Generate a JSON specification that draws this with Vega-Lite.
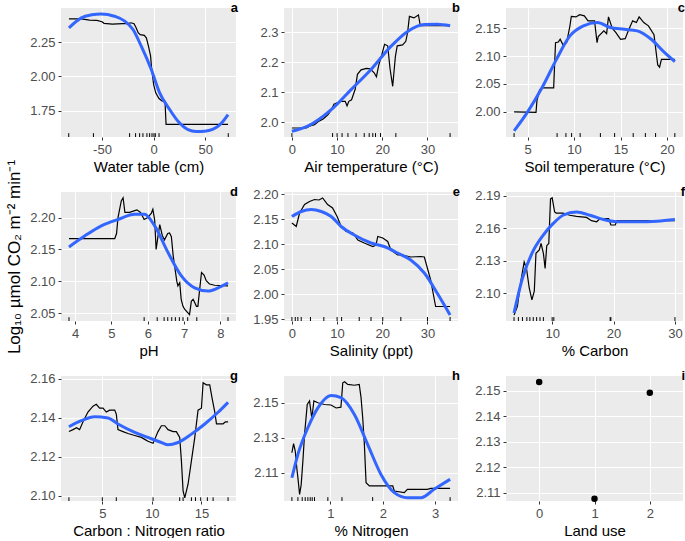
{
"$schema": "https://vega.github.io/schema/vega-lite/v6.json",
"padding": {"left": 5, "top": 2, "right": 0, "bottom": 0},
"background": "white",
"columns": 3,
"bounds": "flush",
"align": "each",
"spacing": {"row": 55, "column": 48},
"concat": [
{
"width": 175, "height": 129,
"resolve": {"axis": {"x": "independent", "y": "independent"}},
"layer": [
 {"data": {"values": [{"x":-82,"y":2.42},{"x":-70,"y":2.42},{"x":-62,"y":2.412},{"x":-55,"y":2.41},{"x":-50,"y":2.40},{"x":-48,"y":2.388},{"x":-40,"y":2.382},{"x":-30,"y":2.386},{"x":-25,"y":2.386},{"x":-22,"y":2.392},{"x":-19,"y":2.385},{"x":-17,"y":2.355},{"x":-15,"y":2.32},{"x":-13,"y":2.305},{"x":-9,"y":2.30},{"x":-7,"y":2.28},{"x":-5,"y":2.22},{"x":-3,"y":2.15},{"x":-2,"y":2.06},{"x":-1,"y":2.0},{"x":0,"y":1.94},{"x":2,"y":1.88},{"x":5,"y":1.84},{"x":8,"y":1.82},{"x":11,"y":1.815},{"x":12,"y":1.65},{"x":72,"y":1.65}]},
  "mark": {"type": "line", "color": "#000000", "strokeWidth": 1.2},
  "encoding": {
   "x": {"field": "x", "type": "quantitative", "scale": {"domain": [-89.7, 79.7], "nice": false, "zero": false}, "axis": {"title": "Water table (cm)", "values": [-50, 0, 50], "labelExpr": "replace(datum.label, '−', '-')"}},
   "y": {"field": "y", "type": "quantitative", "scale": {"domain": [1.557, 2.5], "nice": false, "zero": false}, "axis": {"title": null, "values": [1.75, 2.0, 2.25], "format": ".2f"}}}},
 {"data": {"values": [{"x":-82,"y":2.355},{"x":-70,"y":2.428},{"x":-60,"y":2.45},{"x":-51,"y":2.457},{"x":-38,"y":2.44},{"x":-28,"y":2.404},{"x":-20,"y":2.343},{"x":-12,"y":2.221},{"x":-2.3,"y":2.05},{"x":5.8,"y":1.88},{"x":15.5,"y":1.758},{"x":23.6,"y":1.672},{"x":33.3,"y":1.611},{"x":41,"y":1.597},{"x":49.5,"y":1.599},{"x":57,"y":1.612},{"x":62.5,"y":1.636},{"x":67,"y":1.67},{"x":72,"y":1.72}]},
  "mark": {"type": "line", "color": "#3366FF", "strokeWidth": 3, "interpolate": "monotone"},
  "encoding": {
   "x": {"field": "x", "type": "quantitative", "scale": {"domain": [-89.7, 79.7], "nice": false, "zero": false}, "axis": {"orient": "top", "values": [-75, -25, 25, 75], "labels": false, "ticks": false, "title": null, "gridWidth": 0.55}},
   "y": {"field": "y", "type": "quantitative", "scale": {"domain": [1.557, 2.5], "nice": false, "zero": false}, "axis": {"orient": "right", "values": [1.625, 1.875, 2.125, 2.375], "labels": false, "ticks": false, "title": null, "gridWidth": 0.55}}}},
 {"data": {"values": [{"x":-82.2},{"x":-58.3},{"x":-23.3},{"x":-17.5},{"x":-13.6},{"x":-10.4},{"x":-6.5},{"x":-3.9},{"x":-1.6},{"x":0.3},{"x":1.6},{"x":5.2},{"x":72.2}]},
  "mark": {"type": "rule", "color": "#000000", "strokeWidth": 1},
  "encoding": {"x": {"field": "x", "type": "quantitative", "axis": null}, "y": {"datum": 1.557, "type": "quantitative", "axis": null}, "y2": {"datum": 1.585}}},
 {"data": {"values": [{"t": "a"}]},
  "mark": {"type": "text", "align": "right", "baseline": "alphabetic", "dx": 2, "dy": 4, "fontSize": 13, "fontWeight": "bold", "color": "#000000"},
  "encoding": {"text": {"field": "t"}, "x": {"datum": 79.7, "type": "quantitative", "axis": null}, "y": {"datum": 2.5, "type": "quantitative", "axis": null}}}
]
},
{
"width": 174, "height": 129,
"resolve": {"axis": {"x": "independent", "y": "independent"}},
"layer": [
 {"data": {"values": [{"x":0,"y":1.981},{"x":3.2,"y":1.981},{"x":4,"y":1.988},{"x":5,"y":1.992},{"x":6,"y":2.004},{"x":7,"y":2.012},{"x":8,"y":2.026},{"x":8.7,"y":2.04},{"x":9.3,"y":2.06},{"x":10,"y":2.065},{"x":11,"y":2.07},{"x":11.8,"y":2.07},{"x":12.2,"y":2.055},{"x":12.6,"y":2.07},{"x":13.2,"y":2.075},{"x":14,"y":2.11},{"x":14.5,"y":2.16},{"x":15.3,"y":2.175},{"x":16.5,"y":2.18},{"x":17.3,"y":2.178},{"x":18.2,"y":2.165},{"x":18.7,"y":2.152},{"x":19.2,"y":2.19},{"x":19.8,"y":2.22},{"x":20.5,"y":2.26},{"x":21.2,"y":2.255},{"x":21.7,"y":2.18},{"x":22.3,"y":2.12},{"x":22.9,"y":2.22},{"x":23.3,"y":2.255},{"x":24.5,"y":2.258},{"x":25.2,"y":2.27},{"x":25.6,"y":2.30},{"x":26,"y":2.353},{"x":27,"y":2.348},{"x":28,"y":2.358},{"x":28.4,"y":2.322},{"x":30,"y":2.322},{"x":33,"y":2.323},{"x":35,"y":2.322}]},
  "mark": {"type": "line", "color": "#000000", "strokeWidth": 1.2},
  "encoding": {
   "x": {"field": "x", "type": "quantitative", "scale": {"domain": [-1.75, 36.75], "nice": false, "zero": false}, "axis": {"title": "Air temperature (°C)", "values": [0, 10, 20, 30]}},
   "y": {"field": "y", "type": "quantitative", "scale": {"domain": [1.951, 2.381], "nice": false, "zero": false}, "axis": {"title": null, "values": [2.0, 2.1, 2.2, 2.3], "format": ".1f"}}}},
 {"data": {"values": [{"x":0,"y":1.97},{"x":3.5,"y":1.987},{"x":8.7,"y":2.042},{"x":13.1,"y":2.109},{"x":17.5,"y":2.176},{"x":21.9,"y":2.253},{"x":25.6,"y":2.303},{"x":29.3,"y":2.326},{"x":32.2,"y":2.327},{"x":35,"y":2.322}]},
  "mark": {"type": "line", "color": "#3366FF", "strokeWidth": 3, "interpolate": "monotone"},
  "encoding": {
   "x": {"field": "x", "type": "quantitative", "scale": {"domain": [-1.75, 36.75], "nice": false, "zero": false}, "axis": {"orient": "top", "values": [5, 15, 25, 35], "labels": false, "ticks": false, "title": null, "gridWidth": 0.55}},
   "y": {"field": "y", "type": "quantitative", "scale": {"domain": [1.951, 2.381], "nice": false, "zero": false}, "axis": {"orient": "right", "values": [1.95, 2.05, 2.15, 2.25, 2.35], "labels": false, "ticks": false, "title": null, "gridWidth": 0.55}}}},
 {"data": {"values": [{"x":0},{"x":9.0},{"x":10.0},{"x":11.1},{"x":12.4},{"x":14.2},{"x":16.0},{"x":17.1},{"x":17.9},{"x":18.5},{"x":19.6},{"x":23.0},{"x":35.0}]},
  "mark": {"type": "rule", "color": "#000000", "strokeWidth": 1},
  "encoding": {"x": {"field": "x", "type": "quantitative", "axis": null}, "y": {"datum": 1.951, "type": "quantitative", "axis": null}, "y2": {"datum": 1.964}}},
 {"data": {"values": [{"t": "b"}]},
  "mark": {"type": "text", "align": "right", "baseline": "alphabetic", "dx": 2, "dy": 4, "fontSize": 13, "fontWeight": "bold", "color": "#000000"},
  "encoding": {"text": {"field": "t"}, "x": {"datum": 36.75, "type": "quantitative", "axis": null}, "y": {"datum": 2.381, "type": "quantitative", "axis": null}}}
]
},
{
"width": 177, "height": 129,
"resolve": {"axis": {"x": "independent", "y": "independent"}},
"layer": [
 {"data": {"values": [{"x":3.54,"y":2.0},{"x":5.9,"y":1.999},{"x":6.0,"y":2.02},{"x":6.3,"y":2.04},{"x":6.6,"y":2.043},{"x":7.8,"y":2.043},{"x":8.0,"y":2.124},{"x":8.3,"y":2.125},{"x":8.5,"y":2.13},{"x":8.8,"y":2.12},{"x":9.2,"y":2.124},{"x":9.55,"y":2.154},{"x":9.7,"y":2.171},{"x":10.2,"y":2.17},{"x":10.6,"y":2.174},{"x":11.1,"y":2.172},{"x":11.5,"y":2.163},{"x":12.2,"y":2.163},{"x":12.47,"y":2.124},{"x":12.6,"y":2.135},{"x":13.2,"y":2.145},{"x":13.5,"y":2.14},{"x":13.7,"y":2.17},{"x":14.1,"y":2.15},{"x":14.5,"y":2.142},{"x":15,"y":2.13},{"x":15.5,"y":2.131},{"x":15.9,"y":2.148},{"x":16.3,"y":2.163},{"x":16.7,"y":2.16},{"x":17.0,"y":2.17},{"x":17.5,"y":2.16},{"x":18.0,"y":2.154},{"x":18.6,"y":2.138},{"x":19.0,"y":2.084},{"x":19.2,"y":2.08},{"x":19.4,"y":2.094},{"x":20.1,"y":2.094},{"x":20.84,"y":2.094}]},
  "mark": {"type": "line", "color": "#000000", "strokeWidth": 1.2},
  "encoding": {
   "x": {"field": "x", "type": "quantitative", "scale": {"domain": [2.67, 21.72], "nice": false, "zero": false}, "axis": {"title": "Soil temperature (°C)", "values": [5, 10, 15, 20]}},
   "y": {"field": "y", "type": "quantitative", "scale": {"domain": [1.955, 2.186], "nice": false, "zero": false}, "axis": {"title": null, "values": [2.0, 2.05, 2.1, 2.15], "format": ".2f"}}}},
 {"data": {"values": [{"x":3.54,"y":1.966},{"x":5,"y":2.0},{"x":6.6,"y":2.045},{"x":8.1,"y":2.094},{"x":9.55,"y":2.136},{"x":11,"y":2.154},{"x":12.5,"y":2.16},{"x":13.9,"y":2.151},{"x":15.4,"y":2.148},{"x":16.8,"y":2.145},{"x":18.3,"y":2.13},{"x":19.75,"y":2.106},{"x":20.84,"y":2.09}]},
  "mark": {"type": "line", "color": "#3366FF", "strokeWidth": 3, "interpolate": "monotone"},
  "encoding": {
   "x": {"field": "x", "type": "quantitative", "scale": {"domain": [2.67, 21.72], "nice": false, "zero": false}, "axis": {"orient": "top", "values": [2.5, 7.5, 12.5, 17.5], "labels": false, "ticks": false, "title": null, "gridWidth": 0.55}},
   "y": {"field": "y", "type": "quantitative", "scale": {"domain": [1.955, 2.186], "nice": false, "zero": false}, "axis": {"orient": "right", "values": [1.975, 2.025, 2.075, 2.125, 2.175], "labels": false, "ticks": false, "title": null, "gridWidth": 0.55}}}},
 {"data": {"values": [{"x":3.54},{"x":8.17},{"x":9.12},{"x":9.73},{"x":10.65},{"x":12.83},{"x":14.36},{"x":16.36},{"x":17.67},{"x":18.77},{"x":20.84}]},
  "mark": {"type": "rule", "color": "#000000", "strokeWidth": 1},
  "encoding": {"x": {"field": "x", "type": "quantitative", "axis": null}, "y": {"datum": 1.955, "type": "quantitative", "axis": null}, "y2": {"datum": 1.962}}},
 {"data": {"values": [{"t": "c"}]},
  "mark": {"type": "text", "align": "right", "baseline": "alphabetic", "dx": 2, "dy": 4, "fontSize": 13, "fontWeight": "bold", "color": "#000000"},
  "encoding": {"text": {"field": "t"}, "x": {"datum": 21.72, "type": "quantitative", "axis": null}, "y": {"datum": 2.186, "type": "quantitative", "axis": null}}}
]
},
{
"width": 175, "height": 129,
"resolve": {"axis": {"x": "independent", "y": "independent"}},
"layer": [
 {"data": {"values": [{"x":3.83,"y":2.167},{"x":5.09,"y":2.167},{"x":5.14,"y":2.175},{"x":5.18,"y":2.2},{"x":5.27,"y":2.226},{"x":5.32,"y":2.231},{"x":5.37,"y":2.208},{"x":5.5,"y":2.208},{"x":5.6,"y":2.21},{"x":5.7,"y":2.212},{"x":5.8,"y":2.208},{"x":5.9,"y":2.197},{"x":6.0,"y":2.2},{"x":6.1,"y":2.207},{"x":6.14,"y":2.213},{"x":6.19,"y":2.196},{"x":6.23,"y":2.15},{"x":6.28,"y":2.17},{"x":6.33,"y":2.189},{"x":6.4,"y":2.172},{"x":6.46,"y":2.165},{"x":6.55,"y":2.175},{"x":6.6,"y":2.176},{"x":6.65,"y":2.17},{"x":6.7,"y":2.14},{"x":6.74,"y":2.124},{"x":6.8,"y":2.1},{"x":6.83,"y":2.093},{"x":6.88,"y":2.098},{"x":6.92,"y":2.072},{"x":6.97,"y":2.061},{"x":7.02,"y":2.056},{"x":7.1,"y":2.051},{"x":7.15,"y":2.048},{"x":7.2,"y":2.069},{"x":7.25,"y":2.072},{"x":7.34,"y":2.061},{"x":7.38,"y":2.061},{"x":7.43,"y":2.088},{"x":7.48,"y":2.114},{"x":7.55,"y":2.11},{"x":7.61,"y":2.101},{"x":7.7,"y":2.096},{"x":7.84,"y":2.094},{"x":8.21,"y":2.093}]},
  "mark": {"type": "line", "color": "#000000", "strokeWidth": 1.2},
  "encoding": {
   "x": {"field": "x", "type": "quantitative", "scale": {"domain": [3.61, 8.43], "nice": false, "zero": false}, "axis": {"title": "pH", "values": [4, 5, 6, 7, 8]}},
   "y": {"field": "y", "type": "quantitative", "scale": {"domain": [2.038, 2.24], "nice": false, "zero": false}, "axis": {"title": "Log₁₀ µmol CO₂ m⁻² min⁻¹", "titleFontSize": 17, "titlePadding": 6, "values": [2.05, 2.1, 2.15, 2.2], "format": ".2f"}}}},
 {"data": {"values": [{"x":3.83,"y":2.154},{"x":4.26,"y":2.171},{"x":4.72,"y":2.187},{"x":5.18,"y":2.197},{"x":5.64,"y":2.205},{"x":5.91,"y":2.205},{"x":6.19,"y":2.187},{"x":6.56,"y":2.145},{"x":6.92,"y":2.109},{"x":7.29,"y":2.09},{"x":7.66,"y":2.085},{"x":7.94,"y":2.09},{"x":8.21,"y":2.098}]},
  "mark": {"type": "line", "color": "#3366FF", "strokeWidth": 3, "interpolate": "monotone"},
  "encoding": {
   "x": {"field": "x", "type": "quantitative", "scale": {"domain": [3.61, 8.43], "nice": false, "zero": false}, "axis": {"orient": "top", "values": [4.5, 5.5, 6.5, 7.5], "labels": false, "ticks": false, "title": null, "gridWidth": 0.55}},
   "y": {"field": "y", "type": "quantitative", "scale": {"domain": [2.038, 2.24], "nice": false, "zero": false}, "axis": {"orient": "right", "values": [2.075, 2.125, 2.175, 2.225], "labels": false, "ticks": false, "title": null, "gridWidth": 0.55}}}},
 {"data": {"values": [{"x":3.83},{"x":5.9},{"x":6.26},{"x":6.45},{"x":6.55},{"x":6.66},{"x":6.76},{"x":6.87},{"x":6.97},{"x":7.1},{"x":7.35},{"x":8.21}]},
  "mark": {"type": "rule", "color": "#000000", "strokeWidth": 1},
  "encoding": {"x": {"field": "x", "type": "quantitative", "axis": null}, "y": {"datum": 2.038, "type": "quantitative", "axis": null}, "y2": {"datum": 2.044}}},
 {"data": {"values": [{"t": "d"}]},
  "mark": {"type": "text", "align": "right", "baseline": "alphabetic", "dx": 2, "dy": 4, "fontSize": 13, "fontWeight": "bold", "color": "#000000"},
  "encoding": {"text": {"field": "t"}, "x": {"datum": 8.43, "type": "quantitative", "axis": null}, "y": {"datum": 2.24, "type": "quantitative", "axis": null}}}
]
},
{
"width": 174, "height": 129,
"resolve": {"axis": {"x": "independent", "y": "independent"}},
"layer": [
 {"data": {"values": [{"x":0,"y":2.142},{"x":0.96,"y":2.135},{"x":1.7,"y":2.162},{"x":2.8,"y":2.179},{"x":3.9,"y":2.185},{"x":5,"y":2.189},{"x":6,"y":2.188},{"x":6.8,"y":2.192},{"x":7.9,"y":2.179},{"x":9,"y":2.172},{"x":10,"y":2.155},{"x":10.9,"y":2.135},{"x":12,"y":2.125},{"x":13.5,"y":2.122},{"x":14.6,"y":2.108},{"x":16,"y":2.102},{"x":17.9,"y":2.095},{"x":18.6,"y":2.098},{"x":19,"y":2.115},{"x":20.1,"y":2.112},{"x":21.2,"y":2.105},{"x":21.9,"y":2.088},{"x":23.4,"y":2.078},{"x":24.5,"y":2.078},{"x":26.3,"y":2.074},{"x":28.5,"y":2.075},{"x":29.3,"y":2.074},{"x":30.7,"y":2.028},{"x":31.8,"y":1.975},{"x":34.4,"y":1.975},{"x":35,"y":1.975}]},
  "mark": {"type": "line", "color": "#000000", "strokeWidth": 1.2},
  "encoding": {
   "x": {"field": "x", "type": "quantitative", "scale": {"domain": [-1.75, 36.75], "nice": false, "zero": false}, "axis": {"title": "Salinity (ppt)", "values": [0, 10, 20, 30]}},
   "y": {"field": "y", "type": "quantitative", "scale": {"domain": [1.946, 2.204], "nice": false, "zero": false}, "axis": {"title": null, "values": [1.95, 2.0, 2.05, 2.1, 2.15, 2.2], "format": ".2f"}}}},
 {"data": {"values": [{"x":0,"y":2.155},{"x":2.06,"y":2.165},{"x":4.26,"y":2.169},{"x":6.5,"y":2.165},{"x":8.7,"y":2.155},{"x":10.9,"y":2.135},{"x":13.8,"y":2.118},{"x":17.5,"y":2.102},{"x":20.4,"y":2.095},{"x":23.4,"y":2.082},{"x":26.3,"y":2.068},{"x":29.3,"y":2.042},{"x":32.2,"y":2.001},{"x":35,"y":1.958}]},
  "mark": {"type": "line", "color": "#3366FF", "strokeWidth": 3, "interpolate": "monotone"},
  "encoding": {
   "x": {"field": "x", "type": "quantitative", "scale": {"domain": [-1.75, 36.75], "nice": false, "zero": false}, "axis": {"orient": "top", "values": [5, 15, 25, 35], "labels": false, "ticks": false, "title": null, "gridWidth": 0.55}},
   "y": {"field": "y", "type": "quantitative", "scale": {"domain": [1.946, 2.204], "nice": false, "zero": false}, "axis": {"orient": "right", "values": [1.975, 2.025, 2.075, 2.125, 2.175], "labels": false, "ticks": false, "title": null, "gridWidth": 0.55}}}},
 {"data": {"values": [{"x":0},{"x":0.74},{"x":1.32},{"x":2.06},{"x":4.1},{"x":7.06},{"x":10},{"x":11.0},{"x":14.9},{"x":17.5},{"x":20.1},{"x":24.1},{"x":30},{"x":35}]},
  "mark": {"type": "rule", "color": "#000000", "strokeWidth": 1},
  "encoding": {"x": {"field": "x", "type": "quantitative", "axis": null}, "y": {"datum": 1.946, "type": "quantitative", "axis": null}, "y2": {"datum": 1.954}}},
 {"data": {"values": [{"t": "e"}]},
  "mark": {"type": "text", "align": "right", "baseline": "alphabetic", "dx": 2, "dy": 4, "fontSize": 13, "fontWeight": "bold", "color": "#000000"},
  "encoding": {"text": {"field": "t"}, "x": {"datum": 36.75, "type": "quantitative", "axis": null}, "y": {"datum": 2.204, "type": "quantitative", "axis": null}}}
]
},
{
"width": 177, "height": 129,
"resolve": {"axis": {"x": "independent", "y": "independent"}},
"layer": [
 {"data": {"values": [{"x":3.79,"y":2.08},{"x":4.34,"y":2.088},{"x":4.89,"y":2.111},{"x":5.44,"y":2.129},{"x":5.82,"y":2.123},{"x":6.26,"y":2.105},{"x":6.7,"y":2.094},{"x":7.09,"y":2.102},{"x":7.36,"y":2.137},{"x":7.9,"y":2.14},{"x":8.19,"y":2.146},{"x":8.57,"y":2.137},{"x":8.85,"y":2.123},{"x":9.12,"y":2.144},{"x":9.45,"y":2.146},{"x":9.73,"y":2.187},{"x":10,"y":2.188},{"x":10.4,"y":2.175},{"x":10.66,"y":2.174},{"x":11.76,"y":2.174},{"x":12.86,"y":2.172},{"x":13.96,"y":2.171},{"x":15.6,"y":2.17},{"x":16.4,"y":2.167},{"x":17.25,"y":2.166},{"x":17.8,"y":2.169},{"x":19.2,"y":2.169},{"x":19.56,"y":2.163},{"x":20.27,"y":2.163},{"x":20.55,"y":2.167},{"x":25,"y":2.167},{"x":30,"y":2.167}]},
  "mark": {"type": "line", "color": "#000000", "strokeWidth": 1.2},
  "encoding": {
   "x": {"field": "x", "type": "quantitative", "scale": {"domain": [2.48, 31.31], "nice": false, "zero": false}, "axis": {"title": "% Carbon", "values": [10, 20, 30]}},
   "y": {"field": "y", "type": "quantitative", "scale": {"domain": [2.0746, 2.1934], "nice": false, "zero": false}, "axis": {"title": null, "values": [2.1, 2.13, 2.16, 2.19], "format": ".2f"}}}},
 {"data": {"values": [{"x":3.79,"y":2.082},{"x":5.16,"y":2.114},{"x":6.8,"y":2.138},{"x":8.46,"y":2.153},{"x":10.1,"y":2.164},{"x":11.76,"y":2.172},{"x":13.96,"y":2.175},{"x":16.15,"y":2.172},{"x":18.35,"y":2.168},{"x":20.55,"y":2.166},{"x":23.85,"y":2.166},{"x":27.1,"y":2.1665},{"x":30,"y":2.168}]},
  "mark": {"type": "line", "color": "#3366FF", "strokeWidth": 3, "interpolate": "monotone"},
  "encoding": {
   "x": {"field": "x", "type": "quantitative", "scale": {"domain": [2.48, 31.31], "nice": false, "zero": false}, "axis": {"orient": "top", "values": [5, 15, 25], "labels": false, "ticks": false, "title": null, "gridWidth": 0.55}},
   "y": {"field": "y", "type": "quantitative", "scale": {"domain": [2.0746, 2.1934], "nice": false, "zero": false}, "axis": {"orient": "right", "values": [2.085, 2.115, 2.145, 2.175], "labels": false, "ticks": false, "title": null, "gridWidth": 0.55}}}},
 {"data": {"values": [{"x":3.79},{"x":4.5},{"x":5.16},{"x":5.88},{"x":6.37},{"x":6.92},{"x":7.47},{"x":8.02},{"x":8.57},{"x":10},{"x":10.27},{"x":19.45},{"x":19.56},{"x":30}]},
  "mark": {"type": "rule", "color": "#000000", "strokeWidth": 1},
  "encoding": {"x": {"field": "x", "type": "quantitative", "axis": null}, "y": {"datum": 2.0746, "type": "quantitative", "axis": null}, "y2": {"datum": 2.0782}}},
 {"data": {"values": [{"t": "f"}]},
  "mark": {"type": "text", "align": "right", "baseline": "alphabetic", "dx": 2, "dy": 4, "fontSize": 13, "fontWeight": "bold", "color": "#000000"},
  "encoding": {"text": {"field": "t"}, "x": {"datum": 31.31, "type": "quantitative", "axis": null}, "y": {"datum": 2.1934, "type": "quantitative", "axis": null}}}
]
},
{
"width": 175, "height": 125,
"resolve": {"axis": {"x": "independent", "y": "independent"}},
"layer": [
 {"data": {"values": [{"x":1.63,"y":2.133},{"x":2.04,"y":2.134},{"x":2.4,"y":2.135},{"x":2.71,"y":2.134},{"x":3.05,"y":2.138},{"x":3.55,"y":2.143},{"x":4.06,"y":2.146},{"x":4.39,"y":2.147},{"x":4.73,"y":2.145},{"x":5.07,"y":2.145},{"x":5.4,"y":2.143},{"x":5.74,"y":2.144},{"x":6.25,"y":2.144},{"x":6.41,"y":2.142},{"x":6.58,"y":2.134},{"x":7.09,"y":2.133},{"x":7.59,"y":2.132},{"x":8.27,"y":2.131},{"x":8.94,"y":2.13},{"x":9.28,"y":2.129},{"x":9.61,"y":2.128},{"x":10.12,"y":2.127},{"x":10.29,"y":2.129},{"x":10.62,"y":2.133},{"x":10.96,"y":2.136},{"x":11.3,"y":2.136},{"x":11.63,"y":2.134},{"x":12.14,"y":2.133},{"x":12.47,"y":2.133},{"x":12.81,"y":2.13},{"x":12.98,"y":2.118},{"x":13.15,"y":2.1026},{"x":13.32,"y":2.099},{"x":13.65,"y":2.106},{"x":13.99,"y":2.118},{"x":14.33,"y":2.13},{"x":14.66,"y":2.144},{"x":15,"y":2.145},{"x":15.17,"y":2.158},{"x":15.5,"y":2.157},{"x":15.84,"y":2.157},{"x":16.08,"y":2.15},{"x":16.35,"y":2.143},{"x":16.52,"y":2.137},{"x":17.19,"y":2.137},{"x":17.42,"y":2.138},{"x":17.69,"y":2.138}]},
  "mark": {"type": "line", "color": "#000000", "strokeWidth": 1.2},
  "encoding": {
   "x": {"field": "x", "type": "quantitative", "scale": {"domain": [0.83, 18.49], "nice": false, "zero": false}, "axis": {"title": "Carbon : Nitrogen ratio", "values": [5, 10, 15]}},
   "y": {"field": "y", "type": "quantitative", "scale": {"domain": [2.0974, 2.1615], "nice": false, "zero": false}, "axis": {"title": null, "values": [2.1, 2.12, 2.14, 2.16], "format": ".2f"}}}},
 {"data": {"values": [{"x":1.63,"y":2.1355},{"x":2.88,"y":2.1386},{"x":4.23,"y":2.1406},{"x":5.57,"y":2.14},{"x":6.58,"y":2.1369},{"x":8.27,"y":2.1326},{"x":9.61,"y":2.13},{"x":10.96,"y":2.1274},{"x":11.63,"y":2.1262},{"x":12.64,"y":2.1274},{"x":13.99,"y":2.1317},{"x":15.34,"y":2.1369},{"x":16.68,"y":2.1429},{"x":17.69,"y":2.148}]},
  "mark": {"type": "line", "color": "#3366FF", "strokeWidth": 3, "interpolate": "monotone"},
  "encoding": {
   "x": {"field": "x", "type": "quantitative", "scale": {"domain": [0.83, 18.49], "nice": false, "zero": false}, "axis": {"orient": "top", "values": [2.5, 7.5, 12.5, 17.5], "labels": false, "ticks": false, "title": null, "gridWidth": 0.55}},
   "y": {"field": "y", "type": "quantitative", "scale": {"domain": [2.0974, 2.1615], "nice": false, "zero": false}, "axis": {"orient": "right", "values": [2.11, 2.13, 2.15], "labels": false, "ticks": false, "title": null, "gridWidth": 0.55}}}},
 {"data": {"values": [{"x":1.63},{"x":5.0},{"x":6.41},{"x":10.12},{"x":12.81},{"x":13.15},{"x":13.99},{"x":14.4},{"x":14.93},{"x":15.6},{"x":16.18},{"x":17.69}]},
  "mark": {"type": "rule", "color": "#000000", "strokeWidth": 1},
  "encoding": {"x": {"field": "x", "type": "quantitative", "axis": null}, "y": {"datum": 2.0974, "type": "quantitative", "axis": null}, "y2": {"datum": 2.0993}}},
 {"data": {"values": [{"t": "g"}]},
  "mark": {"type": "text", "align": "right", "baseline": "alphabetic", "dx": 2, "dy": 4, "fontSize": 13, "fontWeight": "bold", "color": "#000000"},
  "encoding": {"text": {"field": "t"}, "x": {"datum": 18.49, "type": "quantitative", "axis": null}, "y": {"datum": 2.1615, "type": "quantitative", "axis": null}}}
]
},
{
"width": 174, "height": 125,
"resolve": {"axis": {"x": "independent", "y": "independent"}},
"layer": [
 {"data": {"values": [{"x":0.263,"y":2.1214},{"x":0.295,"y":2.1266},{"x":0.327,"y":2.1224},{"x":0.359,"y":2.112},{"x":0.378,"y":2.107},{"x":0.41,"y":2.0976},{"x":0.44,"y":2.103},{"x":0.473,"y":2.1167},{"x":0.505,"y":2.132},{"x":0.556,"y":2.149},{"x":0.6,"y":2.151},{"x":0.644,"y":2.141},{"x":0.683,"y":2.151},{"x":0.759,"y":2.15},{"x":0.886,"y":2.149},{"x":1.01,"y":2.1487},{"x":1.108,"y":2.147},{"x":1.2,"y":2.1475},{"x":1.235,"y":2.1614},{"x":1.27,"y":2.162},{"x":1.33,"y":2.1605},{"x":1.457,"y":2.16},{"x":1.55,"y":2.1605},{"x":1.584,"y":2.153},{"x":1.616,"y":2.1414},{"x":1.648,"y":2.1262},{"x":1.68,"y":2.1043},{"x":1.743,"y":2.1024},{"x":1.9,"y":2.1024},{"x":2.09,"y":2.1024},{"x":2.19,"y":2.1024},{"x":2.22,"y":2.0995},{"x":2.41,"y":2.0986},{"x":2.47,"y":2.1005},{"x":2.66,"y":2.1005},{"x":2.85,"y":2.1005},{"x":2.92,"y":2.101},{"x":3.286,"y":2.101}]},
  "mark": {"type": "line", "color": "#000000", "strokeWidth": 1.2},
  "encoding": {
   "x": {"field": "x", "type": "quantitative", "scale": {"domain": [0.112, 3.437], "nice": false, "zero": false}, "axis": {"title": "% Nitrogen", "values": [1, 2, 3]}},
   "y": {"field": "y", "type": "quantitative", "scale": {"domain": [2.0938, 2.1653], "nice": false, "zero": false}, "axis": {"title": null, "values": [2.11, 2.13, 2.15], "format": ".2f"}}}},
 {"data": {"values": [{"x":0.263,"y":2.1071},{"x":0.378,"y":2.1205},{"x":0.568,"y":2.1357},{"x":0.759,"y":2.1471},{"x":1.013,"y":2.1542},{"x":1.2,"y":2.1529},{"x":1.457,"y":2.1433},{"x":1.71,"y":2.1262},{"x":1.965,"y":2.109},{"x":2.22,"y":2.0986},{"x":2.47,"y":2.0957},{"x":2.73,"y":2.0957},{"x":2.98,"y":2.1005},{"x":3.286,"y":2.1062}]},
  "mark": {"type": "line", "color": "#3366FF", "strokeWidth": 3, "interpolate": "monotone"},
  "encoding": {
   "x": {"field": "x", "type": "quantitative", "scale": {"domain": [0.112, 3.437], "nice": false, "zero": false}, "axis": {"orient": "top", "values": [0.5, 1.5, 2.5], "labels": false, "ticks": false, "title": null, "gridWidth": 0.55}},
   "y": {"field": "y", "type": "quantitative", "scale": {"domain": [2.0938, 2.1653], "nice": false, "zero": false}, "axis": {"orient": "right", "values": [2.1, 2.12, 2.14, 2.16], "labels": false, "ticks": false, "title": null, "gridWidth": 0.55}}}},
 {"data": {"values": [{"x":0.263},{"x":0.378},{"x":0.46},{"x":0.517},{"x":0.568},{"x":0.613},{"x":0.651},{"x":0.695},{"x":0.95},{"x":1.22},{"x":1.806},{"x":3.286}]},
  "mark": {"type": "rule", "color": "#000000", "strokeWidth": 1},
  "encoding": {"x": {"field": "x", "type": "quantitative", "axis": null}, "y": {"datum": 2.0938, "type": "quantitative", "axis": null}, "y2": {"datum": 2.096}}},
 {"data": {"values": [{"t": "h"}]},
  "mark": {"type": "text", "align": "right", "baseline": "alphabetic", "dx": 2, "dy": 4, "fontSize": 13, "fontWeight": "bold", "color": "#000000"},
  "encoding": {"text": {"field": "t"}, "x": {"datum": 3.437, "type": "quantitative", "axis": null}, "y": {"datum": 2.1653, "type": "quantitative", "axis": null}}}
]
},
{
"width": 177, "height": 125,
"resolve": {"axis": {"x": "independent", "y": "independent"}},
"layer": [
 {"data": {"values": [{"x":0,"y":2.1535},{"x":1,"y":2.1076},{"x":2,"y":2.1493}]},
  "mark": {"type": "point", "filled": true, "size": 42, "color": "#000000", "opacity": 1},
  "encoding": {
   "x": {"field": "x", "type": "quantitative", "scale": {"domain": [-0.6, 2.6], "nice": false, "zero": false}, "axis": {"title": "Land use", "values": [0, 1, 2]}},
   "y": {"field": "y", "type": "quantitative", "scale": {"domain": [2.1067, 2.1559], "nice": false, "zero": false}, "axis": {"title": null, "values": [2.11, 2.12, 2.13, 2.14, 2.15], "format": ".2f"}}}},
 {"data": {"values": [{"t": "i"}]},
  "mark": {"type": "text", "align": "right", "baseline": "alphabetic", "dx": 2, "dy": 4, "fontSize": 13, "fontWeight": "bold", "color": "#000000"},
  "encoding": {"text": {"field": "t"}, "x": {"datum": 2.6, "type": "quantitative", "axis": null}, "y": {"datum": 2.1559, "type": "quantitative", "axis": {"orient": "right", "values": [2.115, 2.125, 2.135, 2.145, 2.155], "labels": false, "ticks": false, "title": null, "gridWidth": 0.55}}}}
]
}
],
"config": {
 "font": "Liberation Sans",
 "view": {"fill": "#EBEBEB", "stroke": null},
 "axis": {"domain": false, "grid": true, "gridColor": "#FFFFFF", "gridWidth": 1.1, "tickColor": "#333333", "tickSize": 3, "tickWidth": 1, "labelColor": "#4D4D4D", "labelFontSize": 13, "labelFont": "Liberation Sans", "labelPadding": 3, "labelFlush": false, "labelOverlap": false, "titleFont": "Liberation Sans", "titleFontSize": 15, "titleFontWeight": "normal", "titleColor": "#000000", "titlePadding": 3}
}
}
